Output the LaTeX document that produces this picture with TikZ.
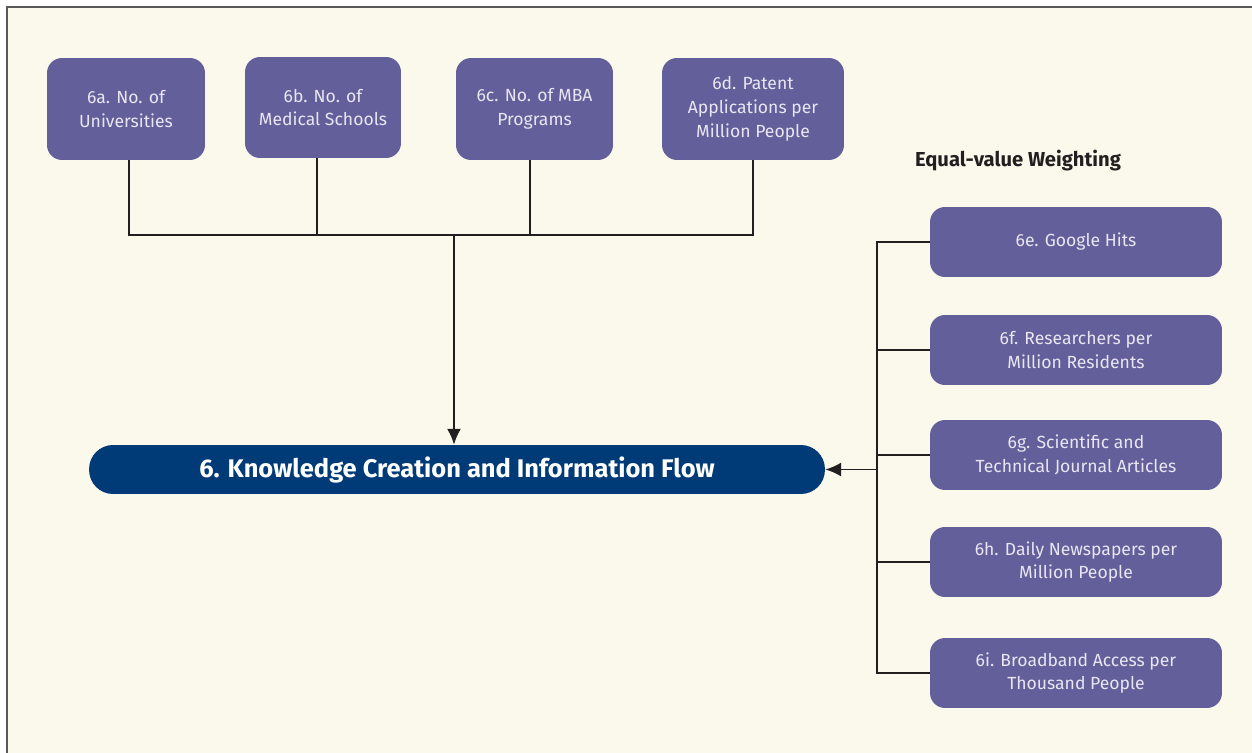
\documentclass[tikz,border=0pt]{standalone}
\usepackage{fontspec}
\setmainfont{Fira Sans}
\usetikzlibrary{arrows.meta}

\definecolor{cream}{HTML}{FBF9EC}
\definecolor{boxpurple}{HTML}{625F9A}
\definecolor{mainblue}{HTML}{003B78}
\definecolor{boxtext}{HTML}{E8E6F2}
\definecolor{linedark}{HTML}{231F20}

\tikzset{
    subbox/.style={draw=none, fill=boxpurple, rounded corners=0.3cm, align=center,
        text=boxtext, font=\fontsize{10}{13.6}\selectfont, inner sep=0pt},
    mainbox/.style={draw=none, fill=mainblue, rounded corners=0.48cm, text=white,
        font=\bfseries\fontsize{14.5}{16}\selectfont, minimum width=14.72cm, minimum height=0.98cm},
    link/.style={draw=linedark, line width=1.1pt},
    feed/.style={link, -{Latex[length=9pt,width=8pt]}}
}

\begin{document}
\begin{tikzpicture}[x=0.02cm, y=-0.02cm]

    % constants
    \def\topy{109}
    \def\busy{235}
    \def\railx{877}
    \def\rightx{1076}

    \useasboundingbox (0,0) rectangle (1252,753);
    \fill [cream] (7,7) rectangle (1252,753);
    \draw [draw=black!65, line width=1.1pt] (7,753) -- (7,7) -- (1252,7);

    % top row
    \node [subbox, minimum width=3.16cm, minimum height=2.04cm] (a) at (126,\topy) {6a. No. of\\Universities};
    \node [subbox, minimum width=3.12cm, minimum height=2.02cm] (b) at (323,107.5) {6b. No. of\\Medical Schools};
    \node [subbox, minimum width=3.14cm, minimum height=2.04cm] (c) at (534.5,\topy) {6c. No. of MBA\\Programs};
    \node [subbox, minimum width=3.64cm, minimum height=2.04cm] (d) at (753,\topy) {6d. Patent\\Applications per\\Million People};

    % main box
    \node [mainbox] (main) at (457,469.5) {6. Knowledge Creation and Information Flow};

    % right column
    \node [font=\bfseries\fontsize{11.5}{13}\selectfont, text=linedark] (weight) at (1018,161) {Equal-value Weighting};

    \node [subbox, minimum width=5.84cm, minimum height=1.4cm] (e) at (\rightx,242) {6e. Google Hits};
    \node [subbox, minimum width=5.84cm, minimum height=1.4cm] (f) at (\rightx,350) {6f. Researchers per\\Million Residents};
    \node [subbox, minimum width=5.84cm, minimum height=1.4cm] (g) at (\rightx,455) {6g. Scientific and\\Technical Journal Articles};
    \node [subbox, minimum width=5.84cm, minimum height=1.4cm] (h) at (\rightx,562) {6h. Daily Newspapers per\\Million People};
    \node [subbox, minimum width=5.84cm, minimum height=1.4cm] (i) at (\rightx,673) {6i. Broadband Access per\\Thousand People};

    % top connectors
    \coordinate (bus) at (454,\busy);
    \draw [link] ([xshift=0.06cm]a.south) |- (bus);
    \draw [link] (d.south) |- (bus);
    \draw [link] ([xshift=-0.12cm]b.south) -- ([xshift=-0.12cm]b.south |- bus);
    \draw [link] ([xshift=-0.09cm]c.south) -- ([xshift=-0.09cm]c.south |- bus);
    \draw [feed] (bus) -- (bus |- main.north);

    % right connectors
    \coordinate (rail) at (\railx,0);
    \draw [link] (e.west) -| (rail |- i.west) -- (i.west);
    \foreach \n in {f,g,h}
        \draw [link] (\n.west) -- (\n.west -| rail);
    \draw [feed] (rail |- main.east) -- (main.east);

\end{tikzpicture}
\end{document}
